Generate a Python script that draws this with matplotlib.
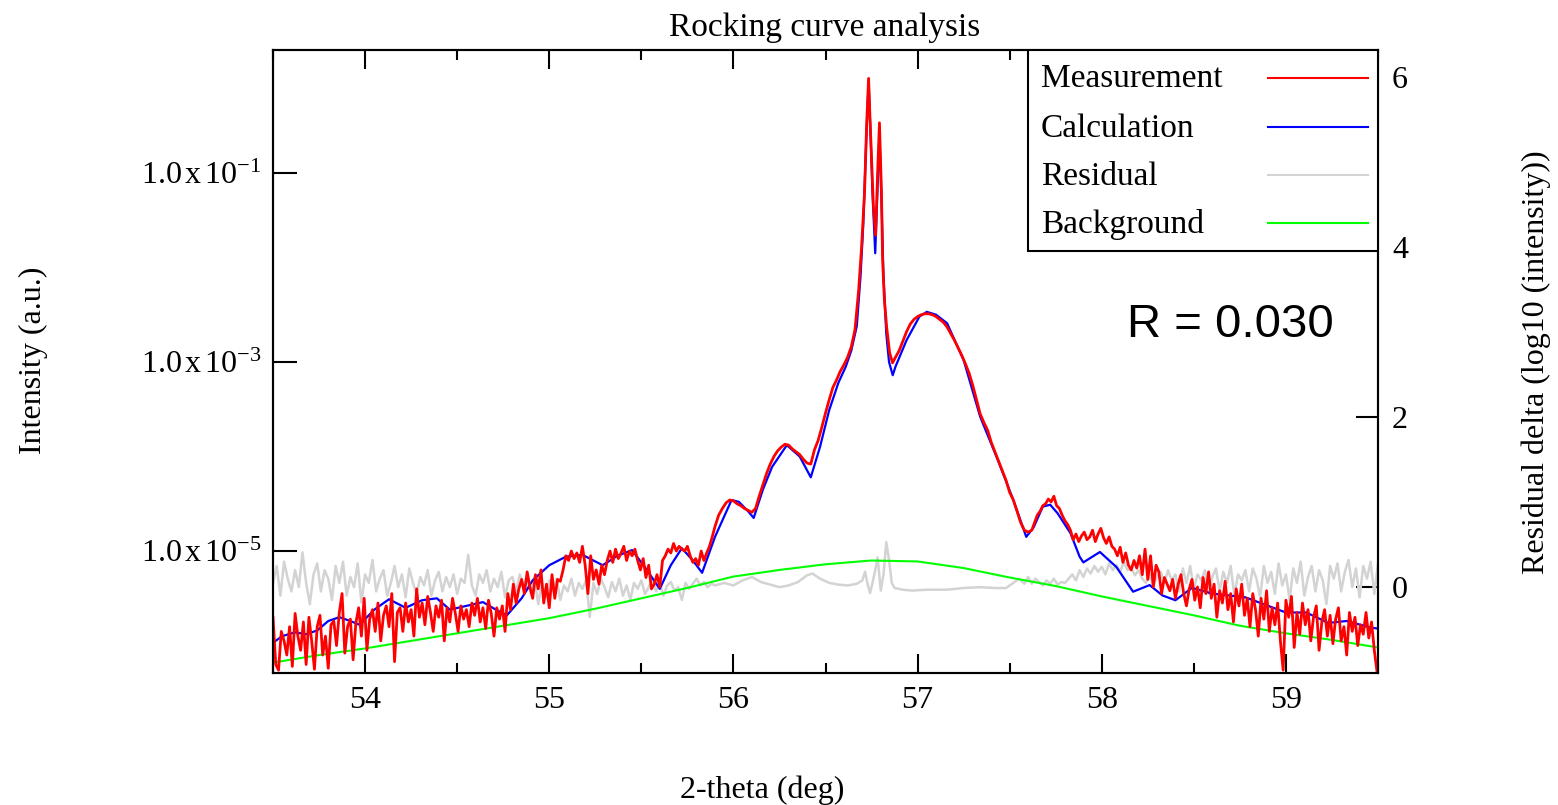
import numpy as np
import matplotlib
matplotlib.use("Agg")
import matplotlib.pyplot as plt
from matplotlib.lines import Line2D
from matplotlib.patches import Rectangle
from matplotlib.ticker import FixedLocator, FuncFormatter, MultipleLocator

plt.rcParams['font.family'] = ['Liberation Serif', 'DejaVu Serif']
plt.rcParams['mathtext.fontset'] = 'custom'
plt.rcParams['mathtext.rm'] = 'Liberation Serif'
plt.rcParams['mathtext.it'] = 'Liberation Serif:italic'

# ---- measurement (log10 intensity), noisy left part, scan step 0.015 deg from 53.5
meas_left_log = [
    -5.70, -6.20, -6.26, -5.85, -5.95, -6.10, -5.80, -6.22, -5.66, -5.90,
    -6.05, -5.75, -6.20, -5.70, -5.95, -6.25, -5.80, -5.68, -6.10, -5.90,
    -6.24, -5.78, -5.74, -6.00, -5.65, -5.45, -6.08, -5.80, -5.72, -6.15,
    -5.76, -5.60, -5.90, -5.50, -6.05, -5.72, -5.62, -5.85, -5.55, -5.95,
    -5.68, -5.58, -5.80, -5.45, -6.17, -5.65, -5.60, -5.85, -5.55, -5.75,
    -5.62, -5.90, -5.40, -5.70, -5.55, -5.78, -5.48, -5.65, -5.85, -5.58,
    -5.70, -5.52, -5.95, -5.60, -5.75, -5.50, -5.66, -5.85, -5.58, -5.72,
    -5.62, -5.80, -5.55, -5.68, -5.50, -5.75, -5.60, -5.82, -5.52, -5.66,
    -5.90, -5.60, -5.72, -5.58, -5.85, -5.45, -5.62, -5.35, -5.55, -5.40,
    -5.30, -5.45, -5.22, -5.38, -5.50, -5.25, -5.40, -5.20, -5.55, -5.35,
    -5.60, -5.25, -5.50, -5.30, -5.32, -5.20, -5.05, -5.10, -5.00, -5.08,
    -5.02, -5.12, -4.95, -5.15, -5.45, -5.05, -5.30, -5.20, -5.35, -5.15,
    -5.25, -5.10, -5.00, -5.12, -4.98, -5.08, -5.02, -4.95, -5.10, -5.00,
    -5.05, -4.98, -5.10, -5.20, -5.08, -5.28, -5.15, -5.40, -5.35, -5.25,
    -5.38, -5.10, -5.05, -4.98, -5.02, -4.92, -5.00, -4.95, -4.98, -5.00,
    -4.95, -5.05, -5.12, -5.08, -5.15, -5.00, -5.10, -5.02, -4.95, -4.85,
    -4.74,
]

# measurement around the main peak
meas_mid_x = [
    55.92, 55.94, 55.96, 55.98, 56.00, 56.02, 56.04, 56.06, 56.08, 56.10,
    56.12, 56.14, 56.16, 56.18, 56.20, 56.22, 56.24, 56.26, 56.28, 56.30,
    56.32, 56.34, 56.36, 56.38, 56.40, 56.42, 56.44, 56.46, 56.48, 56.50,
    56.52, 56.54, 56.56, 56.58, 56.60, 56.62, 56.64, 56.66, 56.68, 56.696,
    56.712, 56.723, 56.734, 56.742, 56.750, 56.760, 56.772, 56.783, 56.793, 56.804,
    56.810, 56.820, 56.832, 56.848, 56.864, 56.88, 56.90, 56.92, 56.94, 56.96,
    56.98, 57.00, 57.02, 57.04, 57.06, 57.08, 57.10, 57.12, 57.14, 57.16,
    57.18, 57.20, 57.22, 57.24, 57.26, 57.28, 57.30, 57.32, 57.34, 57.36,
    57.38, 57.40, 57.42, 57.44, 57.46, 57.48, 57.50, 57.52, 57.54, 57.56,
    57.58, 57.60,
]
meas_mid_log = [
    -4.62, -4.55, -4.49, -4.46, -4.47, -4.50, -4.52, -4.55, -4.57, -4.59,
    -4.55, -4.42, -4.30, -4.18, -4.08, -4.00, -3.94, -3.90, -3.87, -3.88,
    -3.92, -3.95, -3.98, -4.03, -4.07, -4.08, -3.93, -3.83, -3.69, -3.54,
    -3.40, -3.27, -3.19, -3.10, -3.03, -2.95, -2.84, -2.66, -2.24, -1.78,
    -1.21, -0.51, 0.00, -0.45, -0.86, -1.35, -1.66, -1.00, -0.47, -1.21,
    -1.92, -2.35, -2.63, -2.90, -3.01, -2.95, -2.88, -2.78, -2.68, -2.60,
    -2.55, -2.52, -2.50, -2.49, -2.49, -2.50, -2.52, -2.55, -2.58, -2.63,
    -2.70, -2.77, -2.85, -2.93, -3.02, -3.12, -3.25, -3.40, -3.55, -3.64,
    -3.72, -3.85, -3.95, -4.05, -4.15, -4.25, -4.38, -4.46, -4.58, -4.70,
    -4.78, -4.80,
]

# noisy right part, scan step 0.015 deg from 57.62
meas_right_log = [
    -4.78, -4.70, -4.62, -4.58, -4.52, -4.50, -4.45, -4.48, -4.42, -4.52,
    -4.55, -4.62, -4.68, -4.72, -4.78, -4.88, -4.82, -4.90, -4.84, -4.80,
    -4.88, -4.85, -4.78, -4.90, -4.82, -4.76, -4.86, -4.92, -4.85, -4.95,
    -4.98, -5.05, -4.96, -5.12, -5.02, -5.15, -5.20, -5.10, -5.18, -5.05,
    -5.25, -4.98, -5.30, -5.05, -5.38, -5.15, -5.22, -5.45, -5.28, -5.35,
    -5.42, -5.30, -5.50, -5.35, -5.25, -5.45, -5.58, -5.40, -5.30, -5.52,
    -5.38, -5.60, -5.28, -5.45, -5.22, -5.50, -5.35, -5.70, -5.42, -5.55,
    -5.32, -5.62, -5.45, -5.75, -5.40, -5.58, -5.35, -5.68, -5.50, -5.80,
    -5.45, -5.62, -5.90, -5.50, -5.72, -5.42, -5.85, -5.60, -5.78, -5.55,
    -5.95, -6.26, -5.52, -5.70, -5.48, -6.02, -5.65, -5.88, -5.55, -5.78,
    -5.62, -5.95, -5.70, -5.58, -6.05, -5.75, -5.62, -5.90, -5.68, -5.98,
    -5.72, -5.60, -5.95, -5.80, -6.10, -5.65, -5.85, -5.70, -6.00, -5.78,
    -5.88, -5.65, -5.92, -5.75, -6.05, -6.28,
]

# ---- calculation (log10 intensity)
calc_x = [
    53.50, 53.55, 53.62, 53.68, 53.74, 53.80, 53.86, 53.92, 53.97, 54.05,
    54.13, 54.22, 54.31, 54.39, 54.46, 54.55, 54.64, 54.71, 54.77, 54.85,
    54.91, 55.00, 55.09, 55.18, 55.24, 55.29, 55.37, 55.45, 55.53, 55.60,
    55.66, 55.72, 55.78, 55.83, 55.90, 55.96, 55.99, 56.03, 56.08, 56.11,
    56.16, 56.21, 56.29, 56.36, 56.42, 56.47, 56.52, 56.57, 56.61, 56.64,
    56.67, 56.69, 56.705, 56.723, 56.734, 56.745, 56.755, 56.770, 56.780, 56.793,
    56.804, 56.815, 56.830, 56.845, 56.865, 56.88, 56.94, 57.01, 57.05, 57.10,
    57.16, 57.25, 57.34, 57.43, 57.52, 57.59, 57.63, 57.68, 57.72, 57.76,
    57.83, 57.88, 57.90, 57.99, 58.08, 58.17, 58.26, 58.33, 58.40, 58.49,
    58.60, 58.78, 59.00, 59.11, 59.23, 59.33, 59.46, 59.50,
]
calc_log = [
    -5.97, -5.90, -5.86, -5.88, -5.84, -5.74, -5.70, -5.74, -5.78, -5.62,
    -5.51, -5.60, -5.52, -5.50, -5.62, -5.58, -5.54, -5.62, -5.68, -5.50,
    -5.31, -5.15, -5.06, -5.04, -5.10, -5.15, -5.05, -4.99, -5.20, -5.40,
    -5.15, -4.97, -5.10, -5.23, -4.85, -4.59, -4.46, -4.48, -4.58, -4.65,
    -4.35, -4.11, -3.88, -4.00, -4.22, -3.90, -3.51, -3.22, -3.05, -2.88,
    -2.62, -2.10, -1.55, -0.55, -0.03, -0.60, -1.20, -1.85, -1.30, -0.58,
    -1.30, -2.10, -2.70, -3.00, -3.14, -3.05, -2.77, -2.52, -2.47, -2.50,
    -2.59, -2.98, -3.58, -4.01, -4.46, -4.85, -4.75, -4.53, -4.51, -4.60,
    -4.81, -5.06, -5.12, -5.01, -5.17, -5.43, -5.36, -5.47, -5.52, -5.39,
    -5.45, -5.49, -5.65, -5.65, -5.76, -5.74, -5.81, -5.82,
]

# ---- background (log10 intensity)
bg_x = [53.5, 53.75, 54.0, 54.25, 54.5, 54.75, 55.0, 55.25, 55.5, 55.75, 56.0, 56.25,
        56.5, 56.75, 57.0, 57.25, 57.5, 57.75, 58.0, 58.25, 58.5, 58.75, 59.0, 59.25, 59.5]
bg_log = [-6.18, -6.10, -6.03, -5.95, -5.87, -5.79, -5.71, -5.61, -5.50, -5.39, -5.27, -5.20,
          -5.14, -5.10, -5.11, -5.18, -5.28, -5.37, -5.48, -5.58, -5.68, -5.79, -5.87, -5.94, -6.02]

# ---- residual (right axis), left part step 0.02 from 53.5
resid_left = [
    0.05, 0.25, -0.10, 0.30, 0.10, -0.05, 0.20, 0.00, 0.41, 0.05,
    -0.20, 0.15, 0.28, -0.05, 0.20, 0.10, -0.15, 0.25, 0.05, 0.30,
    -0.10, 0.12, 0.00, 0.28, -0.18, 0.15, 0.05, 0.32, -0.05, 0.10,
    0.20, -0.10, 0.05, 0.25, 0.00, 0.15, -0.12, 0.22, 0.05, -0.08,
    0.12, 0.02, 0.20, -0.10, 0.08, 0.18, -0.05, 0.12, 0.00, 0.15,
    -0.08, 0.10, 0.05, 0.38, 0.02, -0.10, 0.15, 0.05, 0.20, -0.05,
    0.10, 0.00, 0.18, -0.12, 0.08, 0.12, -0.05, 0.15, 0.02, 0.10,
    -0.08, 0.12, -0.20, 0.05, -0.12, 0.08, -0.05, 0.10, -0.15, 0.02,
    -0.05, 0.10, -0.10, 0.05, -0.02, 0.08, -0.35, 0.05, -0.08, 0.10,
    0.00, -0.12, 0.06, -0.05, 0.10, -0.10, 0.02, -0.15, 0.05, -0.02,
    0.08, -0.08, 0.00, 0.10, -0.05, 0.05, -0.10, 0.02, 0.06, -0.04,
    0.00, -0.15, 0.05, -0.02, 0.04, 0.10, 0.02, 0.06, 0.00, 0.04,
    0.02,
]
resid_mid_x = [55.95, 56.00, 56.05, 56.10, 56.15, 56.20, 56.25, 56.30, 56.35, 56.40,
               56.43, 56.47, 56.52, 56.57, 56.62, 56.67, 56.70, 56.715, 56.73, 56.742,
               56.755, 56.77, 56.783, 56.80, 56.815, 56.83, 56.845, 56.86, 56.875, 56.92,
               56.97, 57.05, 57.16, 57.25, 57.34, 57.42, 57.48, 57.52, 57.55, 57.58]
resid_mid = [0.05, 0.02, 0.08, 0.12, 0.06, 0.03, 0.00, 0.02, 0.06, 0.14,
             0.16, 0.10, 0.05, 0.03, 0.02, 0.04, 0.08, 0.18, 0.02, -0.07,
             0.05, 0.20, 0.35, -0.04, 0.15, 0.53, 0.32, 0.05, -0.01, -0.03,
             -0.04, -0.03, -0.03, -0.01, 0.00, -0.01, -0.01, 0.05, 0.10, 0.04]
# right part step 0.02 from 57.6
resid_right = [
    0.12, 0.04, 0.10, 0.06, 0.02, 0.08, 0.04, 0.10, 0.03, 0.06,
    0.05, 0.10, 0.15, 0.08, 0.20, 0.12, 0.22, 0.16, 0.25, 0.18,
    0.24, 0.15, 0.28, 0.20, 0.26, 0.18, 0.30, 0.20, 0.22, 0.14,
    0.20, 0.10, 0.05, 0.15, 0.02, 0.12, 0.18, 0.05, 0.20, 0.08,
    0.15, -0.05, 0.22, 0.05, 0.25, -0.02, 0.15, 0.08, 0.20, -0.08,
    0.12, 0.22, -0.05, 0.18, 0.05, 0.25, -0.10, 0.15, 0.08, 0.20,
    -0.05, 0.22, 0.10, -0.12, 0.25, 0.05, 0.18, -0.08, 0.28, 0.02,
    0.15, -0.15, 0.22, 0.05, 0.30, -0.10, 0.12, 0.25, -0.05, 0.20,
    0.08, -0.20, 0.25, 0.10, 0.28, -0.05, 0.18, 0.32, 0.00, 0.22,
    -0.12, 0.25, 0.10, 0.30, -0.08, 0.28,
]

labels = ["Measurement", "Calculation", "Residual", "Background"]
colors = ['#ff0000', '#0000ff', '#d3d3d3', '#00ff00']

# scan grids
meas_x = np.concatenate([np.round(53.5 + 0.015 * np.arange(len(meas_left_log)), 3),
                         meas_mid_x,
                         np.round(57.62 + 0.015 * np.arange(len(meas_right_log)), 3)])
meas = 10 ** np.array(meas_left_log + meas_mid_log + meas_right_log)
calc = 10 ** np.array(calc_log)
bg = 10 ** np.array(bg_log)
resid_x = np.concatenate([np.round(53.5 + 0.02 * np.arange(len(resid_left)), 3),
                          resid_mid_x,
                          np.round(57.6 + 0.02 * np.arange(len(resid_right)), 3)])
resid = np.array(resid_left + resid_mid + resid_right)

fig = plt.figure(figsize=(15.58, 8.05), dpi=100)
ax = fig.add_axes([273 / 1558, 1 - 673 / 805, 1105 / 1558, 623 / 805])
ax2 = ax.twinx()
ax.set_zorder(ax2.get_zorder() + 1)
ax.patch.set_visible(False)

ax2.plot(resid_x, resid, color=colors[2], lw=1.8)
ax.plot(bg_x, bg, color=colors[3], lw=1.5)
ax.plot(calc_x, calc, color=colors[1], lw=1.6)
ax.plot(meas_x, meas, color=colors[0], lw=2.0)

ax.set_yscale('log')
ax.set_xlim(53.5, 59.5)
ax.set_ylim(10 ** -6.29, 10 ** 0.30)
ax2.set_ylim(-1.01, 6.32)

ax.yaxis.set_major_locator(FixedLocator([1e-5, 1e-3, 1e-1]))
ax.yaxis.set_minor_locator(FixedLocator([]))
ax.yaxis.set_major_formatter(FuncFormatter(
    lambda v, _: r"$\mathregular{1.0\,x\,10^{%d}}$" % int(round(np.log10(v)))))
ax.xaxis.set_major_locator(MultipleLocator(1))
ax.xaxis.set_minor_locator(MultipleLocator(0.5))
ax2.yaxis.set_major_locator(FixedLocator([0, 2, 4, 6]))

ax.tick_params(axis='x', which='major', direction='in', length=14, width=1.5,
               top=True, labelsize=23, pad=9)
ax.tick_params(axis='x', which='minor', direction='in', length=7, width=1.5, top=True)
ax.tick_params(axis='y', which='major', direction='in', length=17, width=1.5,
               labelsize=23, pad=8, right=False)
ax2.tick_params(axis='y', direction='in', length=16, width=1.5, labelsize=23, pad=10)
for a in (ax, ax2):
    for s in a.spines.values():
        s.set_linewidth(1.5)

fig.text(0.5295, 1 - 36 / 805, "Rocking curve analysis", ha='center', va='baseline',
         fontsize=24)
fig.text(0.4891, 0.0186, "2-theta (deg)", ha='center', va='center', fontsize=23)
fig.text(0.0212, 0.5528, "Intensity (a.u.)", ha='center', va='center', rotation=90,
         fontsize=23)
fig.text(0.9859, 0.550, "Residual delta (log10 (intensity))", ha='center', va='center',
         rotation=90, fontsize=23)
ax.text(0.866, 0.5586, "R = 0.030", transform=ax.transAxes, ha='center', va='center',
        fontsize=34, family='Liberation Sans')

# legend box, text left and line samples right
ax.add_patch(Rectangle((0.6833, 0.6778), 1 - 0.6833, 1 - 0.6778, transform=ax.transAxes,
                       facecolor='white', edgecolor='black', lw=1.5, zorder=6))
text_base = [0.9411, 0.8608, 0.7833, 0.7063]
line_y = [0.9546, 0.8769, 0.7994, 0.7228]
for lab, col, tb, ly in zip(labels, colors, text_base, line_y):
    ax.text(0.6948, tb, lab, transform=ax.transAxes, ha='left', va='baseline',
            fontsize=24, zorder=7)
    ax.add_line(Line2D([0.9008, 0.9914], [ly, ly], transform=ax.transAxes, color=col,
                       lw=1.5, zorder=7))

fig.savefig("out.png", dpi=100)
